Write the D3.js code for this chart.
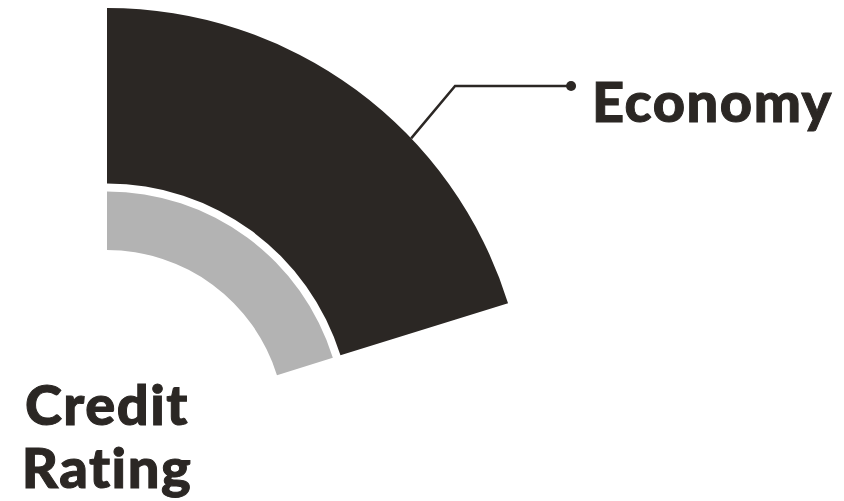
<!DOCTYPE html>
<html>
<head>
<meta charset="utf-8">
<script src="https://cdn.jsdelivr.net/npm/d3@7"></script>
<style>
    body { margin: 0; background: #ffffff; }
    svg { display: block; }
    .label {
        font-family: Lato, 'Open Sans', sans-serif;
        font-weight: 900;
        letter-spacing: 1.5px;
        fill: #2b2724;
        stroke: #2b2724;
        stroke-width: 1px;
    }
</style>
</head>
<body>
<svg id="chart" width="844" height="501"></svg>
<script>
'use strict';
// layers, inside out
const layers = ['Credit Rating', 'Economy'];
const layerValues = [1, 3];
const layerColors = ['#b3b3b3', '#2b2724'];
// share of the full circle taken by the segment (percent)
const segmentShare = 20.2;

const width = 844;
const height = 501;
const cx = 107;
const cy = 428;
const pad = 8;          // white gap between layers
const ink = '#2b2724';

const svg = d3.select('#chart');
const g = svg.append('g').attr('transform', 'translate(' + cx + ',' + cy + ')');

const angle = d3.scaleLinear().domain([0, 100]).range([0, 2 * Math.PI]);
const radius = d3.scaleLinear().domain([0, d3.sum(layerValues)]).range([178, 412]);

// stack the layers outward
let acc = 0;
const bands = layers.map(function (name, i) {
    const b = {
        name: name,
        color: layerColors[i],
        inner: radius(acc) + i * pad,
        outer: radius(acc + layerValues[i]) + i * pad
    };
    acc += layerValues[i];
    return b;
});

const arc = d3.arc()
    .innerRadius((d) => d.inner)
    .outerRadius((d) => d.outer)
    .startAngle(angle(0))
    .endAngle(angle(segmentShare));

g.selectAll('path.band').data(bands).enter().append('path')
    .attr('class', 'band')
    .attr('d', arc)
    .attr('fill', (d) => d.color);

// leader for the outer layer
const outerBand = bands[bands.length - 1];
const p0 = d3.pointRadial(46.4 * Math.PI / 180, outerBand.outer);
const p1 = d3.pointRadial(45.5 * Math.PI / 180, outerBand.outer + 68);
const p2 = [p1[0] + 116, p1[1]];

g.append('path')
    .attr('d', d3.line()([p0, p1, p2]))
    .attr('fill', 'none')
    .attr('stroke', ink)
    .attr('stroke-width', 2.5);

g.append('circle')
    .attr('cx', p2[0])
    .attr('cy', p2[1])
    .attr('r', 5)
    .attr('fill', ink);

g.append('text')
    .attr('class', 'label')
    .attr('x', p2[0] + 21)
    .attr('y', p2[1] + 36)
    .attr('font-size', 56)
    .text(outerBand.name);

// inner layer label, centred under the origin
const innerLabel = g.append('text')
    .attr('class', 'label')
    .attr('text-anchor', 'middle')
    .attr('font-size', 56);

bands[0].name.split(' ').forEach(function (w, i) {
    innerLabel.append('tspan')
        .attr('x', 0)
        .attr('y', -3 + i * 63)
        .text(w);
});
</script>
</body>
</html>
